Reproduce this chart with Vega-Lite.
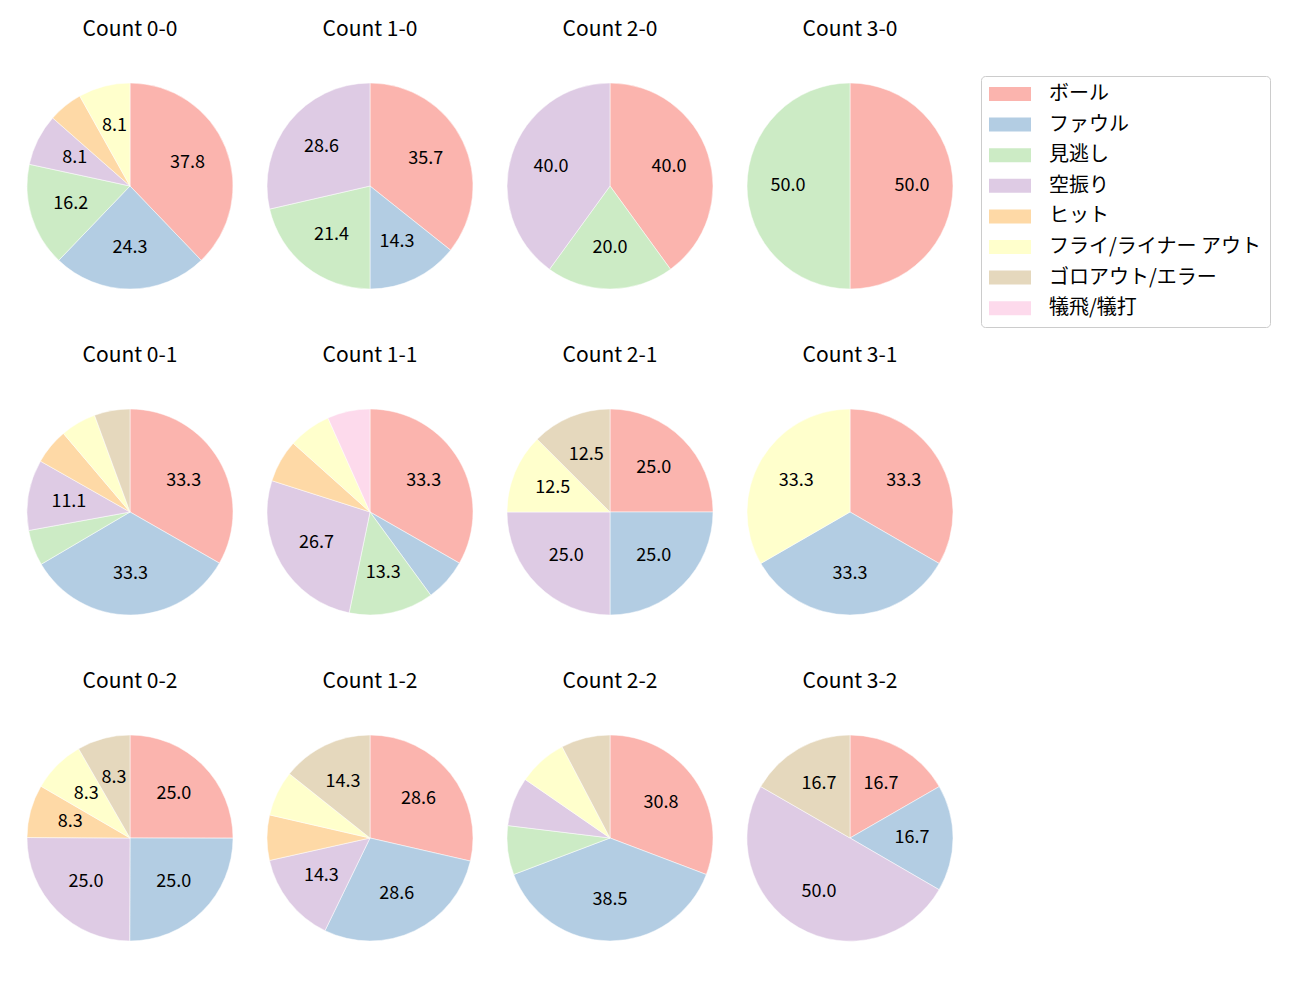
{
  "$schema": "https://vega.github.io/schema/vega-lite/v6.json",
  "padding": {"left": 20, "top": 19, "right": 5, "bottom": 5},
  "data": {"values": [
    {"c": "Count 0-0", "k": "ボール", "o": 1, "v": 37.8},
    {"c": "Count 0-0", "k": "ファウル", "o": 2, "v": 24.3},
    {"c": "Count 0-0", "k": "見逃し", "o": 3, "v": 16.2},
    {"c": "Count 0-0", "k": "空振り", "o": 4, "v": 8.1},
    {"c": "Count 0-0", "k": "ヒット", "o": 5, "v": 5.4},
    {"c": "Count 0-0", "k": "フライ/ライナー アウト", "o": 6, "v": 8.1},
    {"c": "Count 1-0", "k": "ボール", "o": 1, "v": 35.7},
    {"c": "Count 1-0", "k": "ファウル", "o": 2, "v": 14.3},
    {"c": "Count 1-0", "k": "見逃し", "o": 3, "v": 21.4},
    {"c": "Count 1-0", "k": "空振り", "o": 4, "v": 28.6},
    {"c": "Count 2-0", "k": "ボール", "o": 1, "v": 40.0},
    {"c": "Count 2-0", "k": "見逃し", "o": 3, "v": 20.0},
    {"c": "Count 2-0", "k": "空振り", "o": 4, "v": 40.0},
    {"c": "Count 3-0", "k": "ボール", "o": 1, "v": 50.0},
    {"c": "Count 3-0", "k": "見逃し", "o": 3, "v": 50.0},
    {"c": "Count 0-1", "k": "ボール", "o": 1, "v": 33.3},
    {"c": "Count 0-1", "k": "ファウル", "o": 2, "v": 33.3},
    {"c": "Count 0-1", "k": "見逃し", "o": 3, "v": 5.6},
    {"c": "Count 0-1", "k": "空振り", "o": 4, "v": 11.1},
    {"c": "Count 0-1", "k": "ヒット", "o": 5, "v": 5.6},
    {"c": "Count 0-1", "k": "フライ/ライナー アウト", "o": 6, "v": 5.6},
    {"c": "Count 0-1", "k": "ゴロアウト/エラー", "o": 7, "v": 5.6},
    {"c": "Count 1-1", "k": "ボール", "o": 1, "v": 33.3},
    {"c": "Count 1-1", "k": "ファウル", "o": 2, "v": 6.7},
    {"c": "Count 1-1", "k": "見逃し", "o": 3, "v": 13.3},
    {"c": "Count 1-1", "k": "空振り", "o": 4, "v": 26.7},
    {"c": "Count 1-1", "k": "ヒット", "o": 5, "v": 6.7},
    {"c": "Count 1-1", "k": "フライ/ライナー アウト", "o": 6, "v": 6.7},
    {"c": "Count 1-1", "k": "犠飛/犠打", "o": 8, "v": 6.7},
    {"c": "Count 2-1", "k": "ボール", "o": 1, "v": 25.0},
    {"c": "Count 2-1", "k": "ファウル", "o": 2, "v": 25.0},
    {"c": "Count 2-1", "k": "空振り", "o": 4, "v": 25.0},
    {"c": "Count 2-1", "k": "フライ/ライナー アウト", "o": 6, "v": 12.5},
    {"c": "Count 2-1", "k": "ゴロアウト/エラー", "o": 7, "v": 12.5},
    {"c": "Count 3-1", "k": "ボール", "o": 1, "v": 33.3},
    {"c": "Count 3-1", "k": "ファウル", "o": 2, "v": 33.3},
    {"c": "Count 3-1", "k": "フライ/ライナー アウト", "o": 6, "v": 33.3},
    {"c": "Count 0-2", "k": "ボール", "o": 1, "v": 25.0},
    {"c": "Count 0-2", "k": "ファウル", "o": 2, "v": 25.0},
    {"c": "Count 0-2", "k": "空振り", "o": 4, "v": 25.0},
    {"c": "Count 0-2", "k": "ヒット", "o": 5, "v": 8.3},
    {"c": "Count 0-2", "k": "フライ/ライナー アウト", "o": 6, "v": 8.3},
    {"c": "Count 0-2", "k": "ゴロアウト/エラー", "o": 7, "v": 8.3},
    {"c": "Count 1-2", "k": "ボール", "o": 1, "v": 28.6},
    {"c": "Count 1-2", "k": "ファウル", "o": 2, "v": 28.6},
    {"c": "Count 1-2", "k": "空振り", "o": 4, "v": 14.3},
    {"c": "Count 1-2", "k": "ヒット", "o": 5, "v": 7.1},
    {"c": "Count 1-2", "k": "フライ/ライナー アウト", "o": 6, "v": 7.1},
    {"c": "Count 1-2", "k": "ゴロアウト/エラー", "o": 7, "v": 14.3},
    {"c": "Count 2-2", "k": "ボール", "o": 1, "v": 30.8},
    {"c": "Count 2-2", "k": "ファウル", "o": 2, "v": 38.5},
    {"c": "Count 2-2", "k": "見逃し", "o": 3, "v": 7.7},
    {"c": "Count 2-2", "k": "空振り", "o": 4, "v": 7.7},
    {"c": "Count 2-2", "k": "フライ/ライナー アウト", "o": 6, "v": 7.7},
    {"c": "Count 2-2", "k": "ゴロアウト/エラー", "o": 7, "v": 7.7},
    {"c": "Count 3-2", "k": "ボール", "o": 1, "v": 16.7},
    {"c": "Count 3-2", "k": "ファウル", "o": 2, "v": 16.7},
    {"c": "Count 3-2", "k": "空振り", "o": 4, "v": 50.0},
    {"c": "Count 3-2", "k": "ゴロアウト/エラー", "o": 7, "v": 16.7}
  ]},
  "facet": {
    "field": "c", "type": "nominal",
    "sort": ["Count 0-0", "Count 1-0", "Count 2-0", "Count 3-0", "Count 0-1", "Count 1-1", "Count 2-1", "Count 3-1", "Count 0-2", "Count 1-2", "Count 2-2", "Count 3-2"],
    "header": {"title": null, "labelFont": "Noto Sans CJK JP", "labelFontSize": 21, "labelColor": "#000", "labelPadding": 36}
  },
  "columns": 4,
  "spacing": {"column": 20, "row": 49},
  "spec": {
    "width": 220,
    "height": 220,
    "encoding": {
      "theta": {"field": "v", "type": "quantitative", "stack": true},
      "order": {"field": "o", "type": "quantitative"}
    },
    "layer": [
      {
        "mark": {"type": "arc", "outerRadius": 103, "stroke": "white", "strokeWidth": 0.5},
        "encoding": {
          "color": {
            "field": "k", "type": "nominal",
            "scale": {
              "domain": ["ボール", "ファウル", "見逃し", "空振り", "ヒット", "フライ/ライナー アウト", "ゴロアウト/エラー", "犠飛/犠打"],
              "range": ["#fbb4ae", "#b3cde3", "#ccebc5", "#decbe4", "#fed9a6", "#ffffcc", "#e5d8bd", "#fddaec"]
            },
            "legend": {
              "title": null,
              "orient": "none",
              "legendX": 961,
              "legendY": 0
            }
          }
        }
      },
      {
        "mark": {"type": "text", "radius": 62, "font": "Noto Sans CJK JP", "fontSize": 18, "fill": "#000", "align": "center", "baseline": "middle"},
        "encoding": {
          "detail": {"field": "k", "type": "nominal"},
          "text": {"field": "v", "type": "quantitative", "format": ".1f"},
          "opacity": {"condition": {"test": "datum.v < 8", "value": 0}, "value": 1}
        }
      }
    ]
  },
  "config": {
    "view": {"stroke": null},
    "font": "Noto Sans CJK JP",
    "legend": {
      "strokeColor": "#cccccc",
      "cornerRadius": 4,
      "padding": 8,
      "labelFont": "Noto Sans CJK JP",
      "labelFontSize": 20,
      "labelColor": "#000",
      "labelOffset": 29,
      "symbolType": "M-3,-1H3V1H-3Z",
      "symbolSize": 196,
      "symbolOffset": 11,
      "symbolStrokeWidth": 0,
      "symbolOpacity": 1,
      "rowPadding": 10.6,
      "labelLimit": 400
    }
  }
}
